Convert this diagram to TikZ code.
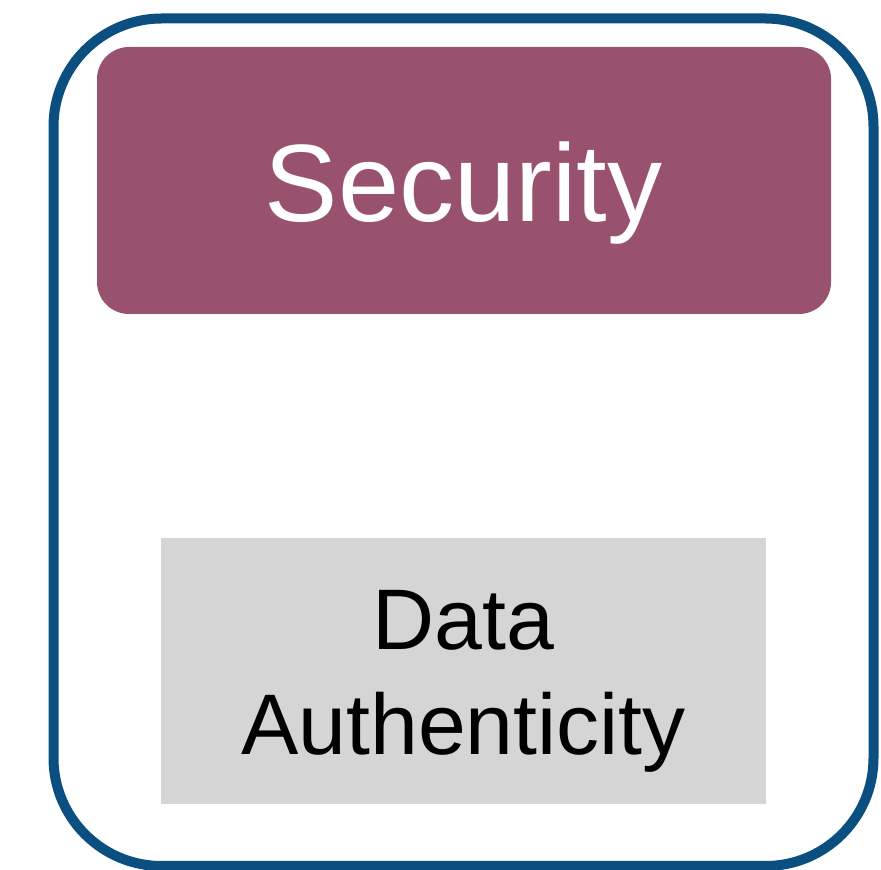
\documentclass[tikz,border=0pt]{standalone}
\usepackage{fontspec}
\setmainfont{Liberation Sans}
\definecolor{frameblue}{HTML}{0A4F80}
\definecolor{secpurple}{HTML}{985270}
\definecolor{boxgrey}{HTML}{D5D5D5}
\begin{document}
\begin{tikzpicture}[x=1pt,y=1pt,
  frame/.style={draw=frameblue,line width=10pt,rounded corners=108pt},
  header/.style={fill=secpurple,rounded corners=32pt},
  item/.style={fill=boxgrey},
  headtext/.style={text=white,font=\fontsize{110}{132}\selectfont,anchor=base,inner sep=0pt},
  itemtext/.style={text=black,font=\fontsize{86}{105}\selectfont,anchor=base,inner sep=0pt}]
  \useasboundingbox (0,0) rectangle (881,870);
  % outer frame
  \draw[frame] (53.5,4) rectangle (873.5,851.5);
  % header box
  \fill[header] (97,556) rectangle (831,823);
  \node[headtext] (security) at (463.5,648) {Security};
  % item box
  \fill[item] (161,66) rectangle (766,332);
  \node[itemtext] (data) at (463.5,220) {Data};
  \node[itemtext] (auth) at (463.5,115) {Authenticity};
\end{tikzpicture}
\end{document}
